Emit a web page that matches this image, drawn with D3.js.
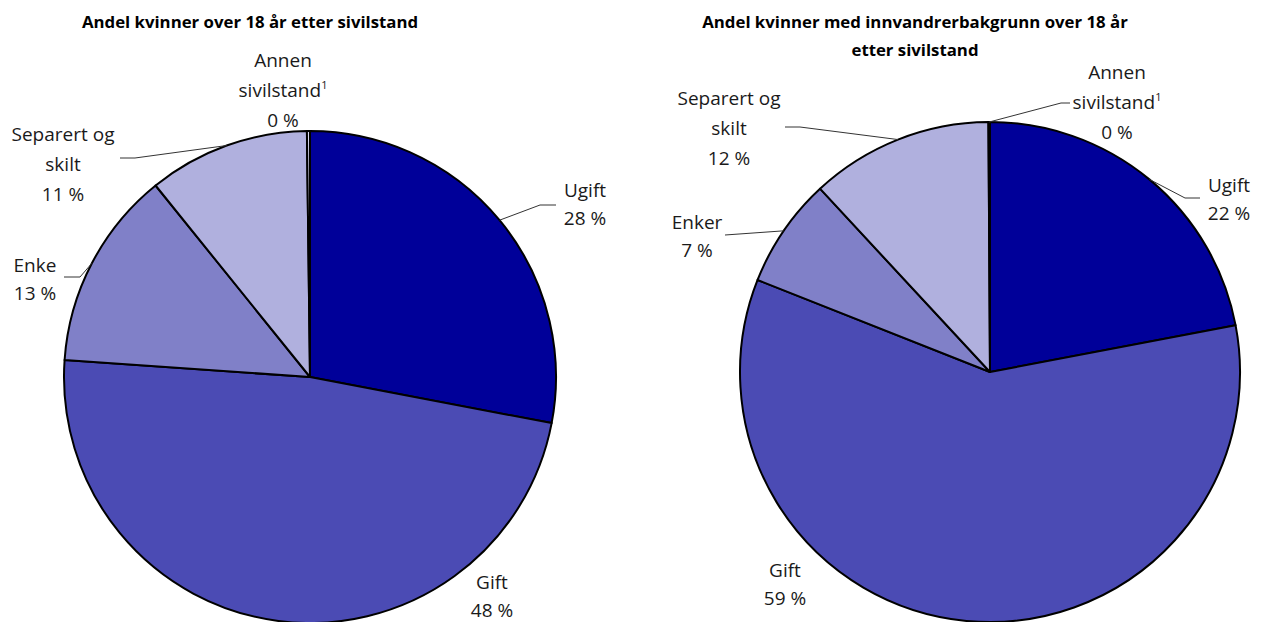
<!DOCTYPE html>
<html>
<head>
<meta charset="utf-8">
<script src="https://cdn.jsdelivr.net/npm/d3@7"></script>
<style>
  body { margin: 0; background: #fff; }
  svg { font-family: "Open Sans", "Noto Sans", sans-serif; }
</style>
</head>
<body>
<svg width="1262" height="622"></svg>
<script>
// categories, same order in both pies (clockwise from 12 o'clock)
var categories = ['Ugift', 'Gift', 'Enke', 'Separert og skilt', 'Annen sivilstand'];
var colors = ['#000099', '#4b4bb4', '#8080c8', '#b0b0de', '#d8d8ef'];

// share of women 18+ by marital status (percent)
var valuesAll = [28.0, 48.1, 13.1, 10.6, 0.2];
// share of women with immigrant background 18+ (percent)
var valuesImm = [22.0, 59.0, 7.1, 11.8, 0.1];

var labelsAll = [['Ugift'], ['Gift'], ['Enke'], ['Separert og', 'skilt'], ['Annen', 'sivilstand¹']];
var labelsImm = [['Ugift'], ['Gift'], ['Enker'], ['Separert og', 'skilt'], ['Annen', 'sivilstand¹']];

var titleAll = ['Andel kvinner over 18 år etter sivilstand'];
var titleImm = ['Andel kvinner med innvandrerbakgrunn over 18 år', 'etter sivilstand'];

// label placement, relative to pie centre: [labelX, labelY, elbowX, elbowY, endX] (leader optional)
var layoutAll = [
  [275, -187, 230, -172, 246],
  [182, 205],
  [-275, -112, -230, -100, -246],
  [-247, -243, -175, -219, -190],
  [-27, -317]
];
var layoutImm = [
  [239, -187, 195, -174, 210],
  [-205, 198],
  [-293, -150, -265, -137, -265],
  [-261, -274, -190, -245, -205],
  [127, -300, 71, -269, 80]
];

var svg = d3.select('svg');

var drawPie = function(cx, cy, r, values, labels, layout, title, titleX){
  var g = svg.append('g').attr('transform', 'translate(' + cx + ',' + cy + ')');

  var pie = d3.pie().sort(null).value(function(d){ return d; });
  var arcs = pie(values);
  var arc = d3.arc().innerRadius(0).outerRadius(r);

  g.selectAll('path.slice')
    .data(arcs)
    .enter()
    .append('path')
    .attr('class', 'slice')
    .attr('d', arc)
    .attr('fill', function(d, i){ return colors[i]; })
    .attr('stroke', '#000')
    .attr('stroke-width', 2)
    .attr('stroke-linejoin', 'round');

  arcs.forEach(function(d, i){
    var l = layout[i];
    if(l.length > 2){
      // point on the rim at slice mid angle
      var a = (d.startAngle + d.endAngle) / 2;
      var px = Math.sin(a) * r, py = -Math.cos(a) * r;
      var pts = [[px, py], [l[2], l[3]], [l[4], l[3]]];
      g.append('path')
        .attr('d', d3.line()(pts))
        .attr('fill', 'none')
        .attr('stroke', '#333')
        .attr('stroke-width', 1);
    }
    var lines = labels[i].concat([Math.round(d.value) + ' %']);
    var step = lines.length > 2 ? 30 : 28;
    var t = g.append('text')
      .attr('text-anchor', 'middle')
      .attr('font-size', 19)
      .attr('fill', '#1a1a1a');
    lines.forEach(function(s, k){
      var ts = t.append('tspan')
        .attr('x', l[0])
        .attr('y', l[1] + k * step + 7);
      if(s.indexOf('¹') >= 0){
        ts.text(s.replace('¹', ''));
        ts.append('tspan').attr('font-size', 11).attr('dy', -8).text('1');
      } else {
        ts.text(s);
      }
    });
  });

  var tt = svg.append('text')
    .attr('text-anchor', 'middle')
    .attr('font-size', 16.8)
    .attr('font-weight', 'bold')
    .attr('fill', '#000');
  title.forEach(function(s, k){
    tt.append('tspan').attr('x', titleX).attr('y', 28 + k * 28).text(s);
  });
};

drawPie(310, 377, 246, valuesAll, labelsAll, layoutAll, titleAll, 250);
drawPie(990, 372, 250, valuesImm, labelsImm, layoutImm, titleImm, 915);
</script>
</body>
</html>
